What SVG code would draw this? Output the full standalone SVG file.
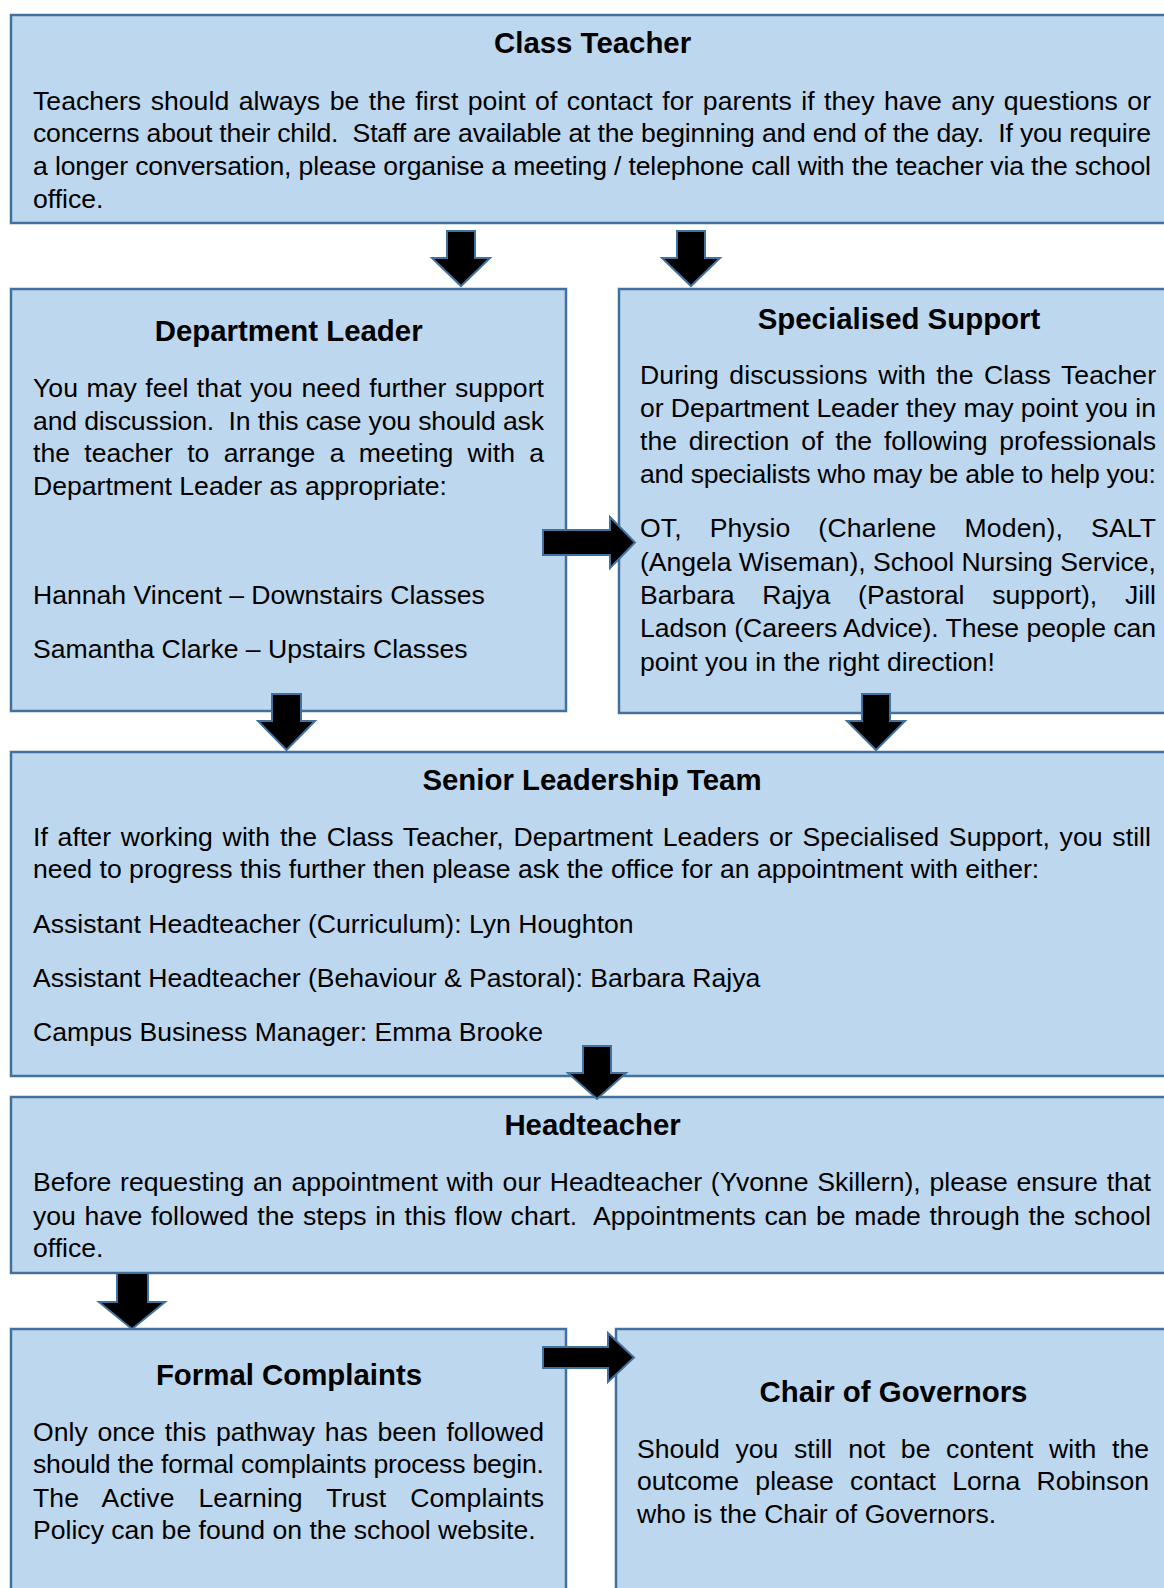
<svg xmlns="http://www.w3.org/2000/svg" width="1164" height="1588" viewBox="0 0 1164 1588">
<style>
.box{fill:#BDD7EE;stroke:#41719C;stroke-width:2.5}
.arrow{fill:#000;stroke:#41719C;stroke-width:2;stroke-linejoin:miter}
.title{font-family:"Liberation Sans",Arial,sans-serif;font-weight:bold;font-size:29.4px;fill:#000;text-anchor:middle}
.t{font-family:"Liberation Sans",Arial,sans-serif;font-size:26.6px;fill:#000}
</style>
<rect x="0" y="0" width="1164" height="1588" fill="#fff"/>

<g id="class-teacher">
<rect class="box" x="11" y="15" width="1165" height="208"/>
<text class="title" x="592.6" y="52.9">Class Teacher</text>
<text class="t" x="33" y="109.5" textLength="1118" lengthAdjust="spacing" style="word-spacing:2.04px">Teachers should always be the first point of contact for parents if they have any questions or</text>
<text class="t" x="33" y="142.4" textLength="1118" lengthAdjust="spacing" xml:space="preserve">concerns about their child.  Staff are available at the beginning and end of the day.  If you require</text>
<text class="t" x="33" y="175.3" textLength="1118" lengthAdjust="spacing">a longer conversation, please organise a meeting / telephone call with the teacher via the school</text>
<text class="t" x="33" y="208.2">office.</text>
</g>

<g id="department-leader">
<rect class="box" x="11" y="289" width="555" height="422"/>
<text class="title" x="288.7" y="340.6">Department Leader</text>
<text class="t" x="33" y="397.1" textLength="511" lengthAdjust="spacing" style="word-spacing:0.97px">You may feel that you need further support</text>
<text class="t" x="33" y="429.7" textLength="511" lengthAdjust="spacing" xml:space="preserve">and discussion.  In this case you should ask</text>
<text class="t" x="33" y="462.3" textLength="511" lengthAdjust="spacing" style="word-spacing:6.89px">the teacher to arrange a meeting with a</text>
<text class="t" x="33" y="495">Department Leader as appropriate:</text>
<text class="t" x="33" y="603.9">Hannah Vincent – Downstairs Classes</text>
<text class="t" x="33" y="657.9">Samantha Clarke – Upstairs Classes</text>
</g>

<g id="specialised-support">
<rect class="box" x="619" y="289" width="560" height="424"/>
<text class="title" x="899" y="329.4">Specialised Support</text>
<text class="t" x="640" y="384.2" textLength="516" lengthAdjust="spacing" style="word-spacing:2.98px">During discussions with the Class Teacher</text>
<text class="t" x="640" y="417.4" textLength="516" lengthAdjust="spacing">or Department Leader they may point you in</text>
<text class="t" x="640" y="450.2" textLength="516" lengthAdjust="spacing" style="word-spacing:4.44px">the direction of the following professionals</text>
<text class="t" x="640" y="483.4" textLength="516" lengthAdjust="spacing">and specialists who may be able to help you:</text>
<text class="t" x="640" y="537.1" textLength="516" lengthAdjust="spacing" style="word-spacing:20.35px">OT, Physio (Charlene Moden), SALT</text>
<text class="t" x="640" y="570.5" textLength="516" lengthAdjust="spacing">(Angela Wiseman), School Nursing Service,</text>
<text class="t" x="640" y="603.9" textLength="516" lengthAdjust="spacing" style="word-spacing:20.35px">Barbara Rajya (Pastoral support), Jill</text>
<text class="t" x="640" y="637.3" textLength="516" lengthAdjust="spacing">Ladson (Careers Advice). These people can</text>
<text class="t" x="640" y="670.7">point you in the right direction!</text>
</g>

<g id="senior-leadership-team">
<rect class="box" x="11" y="752" width="1165" height="324"/>
<text class="title" x="592" y="790.3">Senior Leadership Team</text>
<text class="t" x="33" y="845.9" textLength="1118" lengthAdjust="spacing" style="word-spacing:2.29px">If after working with the Class Teacher, Department Leaders or Specialised Support, you still</text>
<text class="t" x="33" y="878.3">need to progress this further then please ask the office for an appointment with either:</text>
<text class="t" x="33" y="933">Assistant Headteacher (Curriculum): Lyn Houghton</text>
<text class="t" x="33" y="986.7">Assistant Headteacher (Behaviour &amp; Pastoral): Barbara Rajya</text>
<text class="t" x="33" y="1041.3">Campus Business Manager: Emma Brooke</text>
</g>

<g id="headteacher">
<rect class="box" x="11" y="1097" width="1165" height="176"/>
<text class="title" x="592.6" y="1134.8">Headteacher</text>
<text class="t" x="33" y="1191.3" textLength="1118" lengthAdjust="spacing" style="word-spacing:1.36px">Before requesting an appointment with our Headteacher (Yvonne Skillern), please ensure that</text>
<text class="t" x="33" y="1224.7" textLength="1118" lengthAdjust="spacing" xml:space="preserve" style="word-spacing:1.21px">you have followed the steps in this flow chart.  Appointments can be made through the school</text>
<text class="t" x="33" y="1257.1">office.</text>
</g>

<g id="formal-complaints">
<rect class="box" x="11" y="1329" width="555" height="280"/>
<text class="title" x="289" y="1385">Formal Complaints</text>
<text class="t" x="33" y="1441" textLength="511" lengthAdjust="spacing" style="word-spacing:2.37px">Only once this pathway has been followed</text>
<text class="t" x="33" y="1473.4" textLength="511" lengthAdjust="spacing">should the formal complaints process begin.</text>
<text class="t" x="33" y="1506.8" textLength="511" lengthAdjust="spacing" style="word-spacing:16.5px">The Active Learning Trust Complaints</text>
<text class="t" x="33" y="1539.2">Policy can be found on the school website.</text>
</g>

<g id="chair-of-governors">
<rect class="box" x="616" y="1329" width="560" height="280"/>
<text class="title" x="893.5" y="1402.2">Chair of Governors</text>
<text class="t" x="637" y="1458" textLength="512" lengthAdjust="spacing" style="word-spacing:8.29px">Should you still not be content with the</text>
<text class="t" x="637" y="1490.4" textLength="512" lengthAdjust="spacing" style="word-spacing:8.98px">outcome please contact Lorna Robinson</text>
<text class="t" x="637" y="1522.8">who is the Chair of Governors.</text>
</g>

<g id="connectors">
<polygon class="arrow" points="447,231 475,231 475,258 490,258 461,286 432,258 447,258"/>
<polygon class="arrow" points="677,231 705,231 705,258 720,258 691,286 662,258 677,258"/>
<polygon class="arrow" points="543,530 610,530 610,517 635,542.5 610,568 610,555 543,555"/>
<polygon class="arrow" points="272,694 301,694 301,721 315,721 286.5,750 258,721 272,721"/>
<polygon class="arrow" points="862,694 890,694 890,721 905,721 876,750 847,721 862,721"/>
<polygon class="arrow" points="583,1046 611,1046 611,1073 626,1073 597,1099 568,1073 583,1073"/>
<polygon class="arrow" points="117,1273 148,1273 148,1302 165,1302 132,1329 99,1302 117,1302"/>
<polygon class="arrow" points="543,1347 608,1347 608,1333 634,1357.5 608,1382 608,1368 543,1368"/>
</g>
</svg>
